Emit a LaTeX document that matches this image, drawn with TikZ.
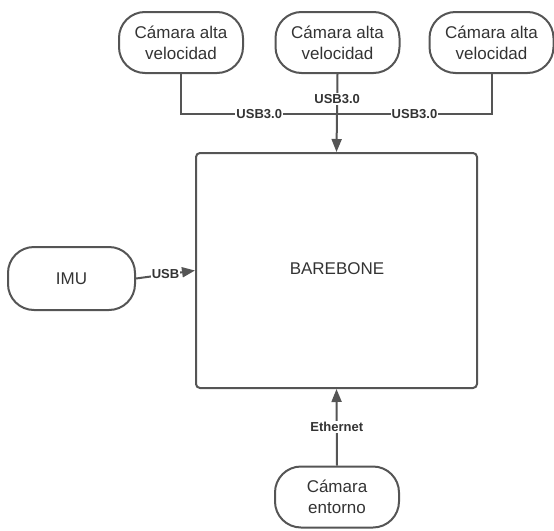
\documentclass[tikz,border=0pt]{standalone}
\usepackage{fontspec}
\setmainfont{Liberation Sans}
\usetikzlibrary{arrows.meta}
\definecolor{linegray}{HTML}{555555}
\definecolor{textgray}{HTML}{333333}
\tikzset{
  cambox/.style={draw=linegray, line width=2pt, rounded corners=26pt, minimum width=124pt, minimum height=61pt, align=center, text=textgray, font=\fontsize{17}{21}\selectfont},
  mainbox/.style={draw=linegray, line width=2pt, rounded corners=4pt, minimum width=281pt, minimum height=235pt, text=textgray, font=\fontsize{17}{20}\selectfont},
  link/.style={draw=linegray, line width=2pt},
  arrow/.style={link, -{Triangle[length=13pt,width=10pt]}},
  linklabel/.style={fill=white, inner sep=1pt, text=textgray, font=\fontsize{13}{15}\selectfont\bfseries}
}
\begin{document}
\begin{tikzpicture}[x=1pt, y=-1pt]
\useasboundingbox (0, 0) rectangle (554, 530);
% devices
\node [cambox] (cam1) at (181, 42.5) {Cámara alta\\velocidad};
\node [cambox] (cam2) at (337.5, 42.5) {Cámara alta\\velocidad};
\node [cambox] (cam3) at (491.5, 42.5) {Cámara alta\\velocidad};
\node [cambox, minimum width=127pt, minimum height=63pt] (imu) at (71.5, 278.5) {IMU};
\node [cambox] (entorno) at (337, 497) {Cámara\\entorno};
\node [mainbox] (bb) at (336.5, 270.5) {};
\node [text=textgray, font=\fontsize{17}{20}\selectfont] (bbtext) at (337, 269) {BAREBONE};
\coordinate (join) at (337.5, 114);
% connections
\draw[link] (cam1.south) |- (join) node [linklabel, pos=0.75] {USB3.0};
\draw[link] (cam3.south) |- (join) node [linklabel, pos=0.75] {USB3.0};
\draw[arrow] (cam2.south) -- (bb.north) node [linklabel, pos=0.32] {USB3.0};
\draw[arrow] (imu.east) -- (bb.west) node [linklabel, pos=0.5] {USB};
\draw[arrow] (entorno.north) -- (bb.south) node [linklabel, pos=0.5] {Ethernet};
\end{tikzpicture}
\end{document}
